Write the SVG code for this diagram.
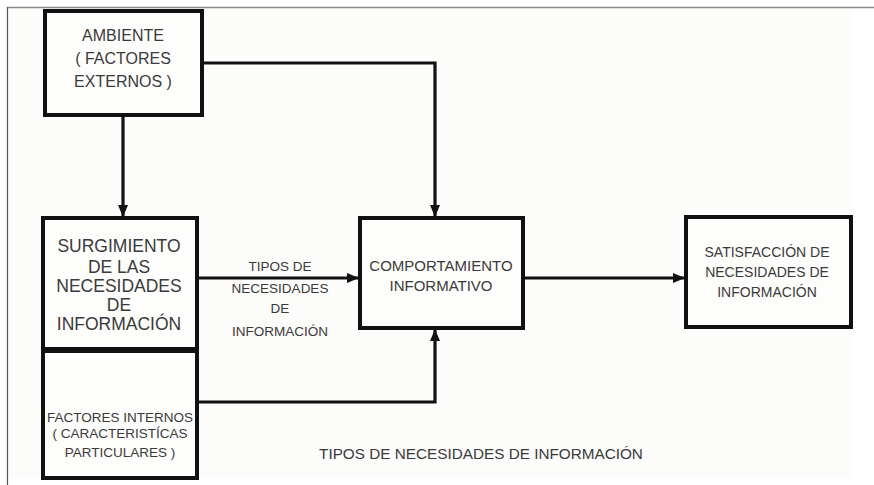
<svg xmlns="http://www.w3.org/2000/svg" width="874" height="485" viewBox="0 0 874 485">
<style>
.box{fill:#fdfdfb;stroke:#111;stroke-width:4}
.ln{fill:none;stroke:#111;stroke-width:3.2}
text{font-family:"Liberation Sans",Arial,sans-serif;fill:#3a3a3a;text-anchor:middle}
</style>
<defs>
<marker id="ah" markerWidth="12" markerHeight="10" refX="11" refY="5" orient="auto" markerUnits="userSpaceOnUse">
<path d="M0,0 L12,5 L0,10 Z" fill="#111"/>
</marker>
</defs>
<rect x="0" y="0" width="874" height="485" fill="#ffffff"/>
<rect x="8" y="8" width="844" height="470" fill="#fcfcfa"/>
<g id="frame">
<line x1="7" y1="7.5" x2="874" y2="7.5" stroke="#888" stroke-width="1.5"/>
<line x1="7.5" y1="7" x2="7.5" y2="485" stroke="#555" stroke-width="1.2"/>
</g>
<g id="connectors">
<path class="ln" d="M202,63 H435 V216" marker-end="url(#ah)"/>
<path class="ln" d="M123,115 V216" marker-end="url(#ah)"/>
<path class="ln" d="M197,278 H358" marker-end="url(#ah)"/>
<path class="ln" d="M123,401 V346" marker-end="url(#ah)"/>
<path class="ln" d="M197,402 H435 V330" marker-end="url(#ah)"/>
<path class="ln" d="M523,278 H684" marker-end="url(#ah)"/>
</g>
<g id="ambiente">
<rect class="box" x="45" y="11" width="157" height="104"/>
<text x="123" y="41" font-size="16">AMBIENTE</text>
<text x="123" y="64" font-size="16">( FACTORES</text>
<text x="123" y="87" font-size="16">EXTERNOS )</text>
</g>
<g id="surgimiento">
<rect class="box" x="43" y="218" width="154" height="132"/>
<text x="119" y="252" font-size="17.5">SURGIMIENTO</text>
<text x="119" y="273" font-size="17.5">DE LAS</text>
<text x="119" y="292" font-size="17.5">NECESIDADES</text>
<text x="119" y="311" font-size="17.5">DE</text>
<text x="119" y="330" font-size="17.5">INFORMACIÓN</text>
</g>
<g id="factores-internos">
<rect class="box" x="43" y="350" width="154" height="128"/>
<line x1="41" y1="350" x2="199" y2="350" stroke="#111" stroke-width="6"/>
<text x="120" y="422" font-size="13.5">FACTORES INTERNOS</text>
<text x="120" y="438" font-size="13.5">( CARACTERISTÍCAS</text>
<text x="120" y="457" font-size="13.5">PARTICULARES )</text>
</g>
<g id="label-tipos">
<text x="280" y="271" font-size="13.5">TIPOS DE</text>
<text x="280" y="293" font-size="13.5">NECESIDADES</text>
<text x="280" y="313" font-size="13.5">DE</text>
<text x="280" y="336" font-size="13.5">INFORMACIÓN</text>
</g>
<g id="comportamiento">
<rect class="box" x="360" y="218" width="163" height="110"/>
<text x="441" y="271" font-size="15">COMPORTAMIENTO</text>
<text x="441" y="291" font-size="15">INFORMATIVO</text>
</g>
<g id="satisfaccion">
<rect class="box" x="686" y="217" width="165" height="110"/>
<text x="767" y="257" font-size="14">SATISFACCIÓN DE</text>
<text x="767" y="277" font-size="14">NECESIDADES DE</text>
<text x="767" y="297" font-size="14">INFORMACIÓN</text>
</g>
<g id="caption">
<text x="481" y="459" font-size="15.3">TIPOS DE NECESIDADES DE INFORMACIÓN</text>
</g>
</svg>
